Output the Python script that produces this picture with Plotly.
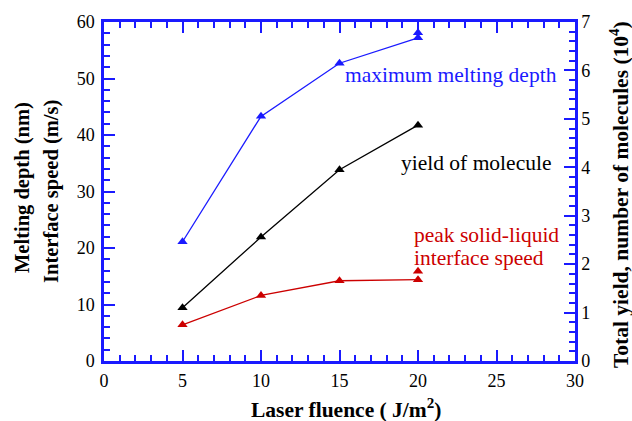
import plotly.graph_objects as go

fluence = [5, 10, 15, 20]
melt_depth = [21.1, 43.3, 52.7, 57.2]
melt_extra_x = [20]
melt_extra = [58.1]
yield_mol = [1.10, 2.56, 3.95, 4.87]
speed = [6.4, 11.6, 14.2, 14.4]
speed_extra_x = [20]
speed_extra = [15.9]

FONT = "Liberation Serif, Times New Roman, serif"
BLUE = "#1a1aff"
RED = "#cc0000"

L, R, T, B = 104, 57, 22, 60
W, H = 632, 421
PW, PH = W - L - R, H - T - B


def px_x(p):
    return (p - L) / PW


def px_y(p):
    return (H - B - p) / PH


fig = go.Figure()
mk = dict(symbol="triangle-up", size=9)
fig.add_trace(go.Scatter(x=fluence, y=melt_depth, mode="lines+markers",
                         line=dict(color=BLUE, width=1.3), marker=dict(color=BLUE, **mk)))
fig.add_trace(go.Scatter(x=melt_extra_x, y=melt_extra, mode="markers",
                         marker=dict(color=BLUE, **mk)))
fig.add_trace(go.Scatter(x=fluence, y=speed, mode="lines+markers",
                         line=dict(color=RED, width=1.3), marker=dict(color=RED, **mk)))
fig.add_trace(go.Scatter(x=speed_extra_x, y=speed_extra, mode="markers",
                         marker=dict(color=RED, **mk)))
fig.add_trace(go.Scatter(x=fluence, y=yield_mol, mode="lines+markers", yaxis="y2",
                         line=dict(color="black", width=1.3), marker=dict(color="black", **mk)))

axis_common = dict(showline=True, linecolor=BLUE, linewidth=2.5, ticks="inside",
                   tickcolor=BLUE, tickwidth=2, ticklen=11, showgrid=False, zeroline=False,
                   tickfont=dict(family=FONT, size=18, color="black"))

fig.update_layout(
    width=W, height=H, margin=dict(l=L, r=R, t=T, b=B),
    plot_bgcolor="white", paper_bgcolor="white", showlegend=False,
    font=dict(family=FONT, color="black"),
    xaxis=dict(range=[0, 30], dtick=5, mirror="ticks", ticklabelstandoff=2,
               minor=dict(dtick=1, ticks="inside", ticklen=6, tickcolor=BLUE, tickwidth=2),
               **axis_common),
    yaxis=dict(range=[0, 60], dtick=10, ticklabelstandoff=3,
               minor=dict(dtick=2, ticks="inside", ticklen=6, tickcolor=BLUE, tickwidth=2),
               **axis_common),
    yaxis2=dict(range=[0, 7], dtick=1, overlaying="y", side="right",
                minor=dict(dtick=0.2, ticks="inside", ticklen=6, tickcolor=BLUE, tickwidth=2),
                **axis_common),
)

# axis titles as annotations
fig.add_annotation(x=px_x(346), y=px_y(408), xref="paper", yref="paper",
                   xanchor="center", yanchor="middle",
                   text="<b>Laser fluence ( J/m<sup>2</sup>)</b>", showarrow=False,
                   font=dict(family=FONT, size=21.5))
fig.add_annotation(x=px_x(22), y=px_y(188), xref="paper", yref="paper", textangle=-90,
                   xanchor="center", yanchor="middle",
                   text="<b>Melting depth (nm)</b>", showarrow=False,
                   font=dict(family=FONT, size=20.5))
fig.add_annotation(x=px_x(51), y=px_y(192), xref="paper", yref="paper", textangle=-90,
                   xanchor="center", yanchor="middle",
                   text="<b>Interface speed (m/s)</b>", showarrow=False,
                   font=dict(family=FONT, size=20.5))
fig.add_annotation(x=px_x(619), y=px_y(195), xref="paper", yref="paper", textangle=-90,
                   xanchor="center", yanchor="middle",
                   text="<b>Total yield, number of molecules (10<sup>4</sup>)</b>",
                   showarrow=False, font=dict(family=FONT, size=21.5))

fig.add_annotation(x=22.1, y=50.7, xref="x", yref="y", text="maximum melting depth",
                   showarrow=False, font=dict(family=FONT, size=21.5, color=BLUE))
fig.add_annotation(x=23.7, y=35.1, xref="x", yref="y", text="yield of molecule",
                   showarrow=False, font=dict(family=FONT, size=21.5, color="black"))
fig.add_annotation(x=19.6, y=22.3, xref="x", yref="y", xanchor="left", yanchor="middle",
                   text="peak solid-liquid", align="left",
                   showarrow=False, font=dict(family=FONT, size=21.5, color=RED))
fig.add_annotation(x=19.6, y=18.3, xref="x", yref="y", xanchor="left", yanchor="middle",
                   text="interface speed", align="left",
                   showarrow=False, font=dict(family=FONT, size=21.5, color=RED))

fig.write_html("out.html")
